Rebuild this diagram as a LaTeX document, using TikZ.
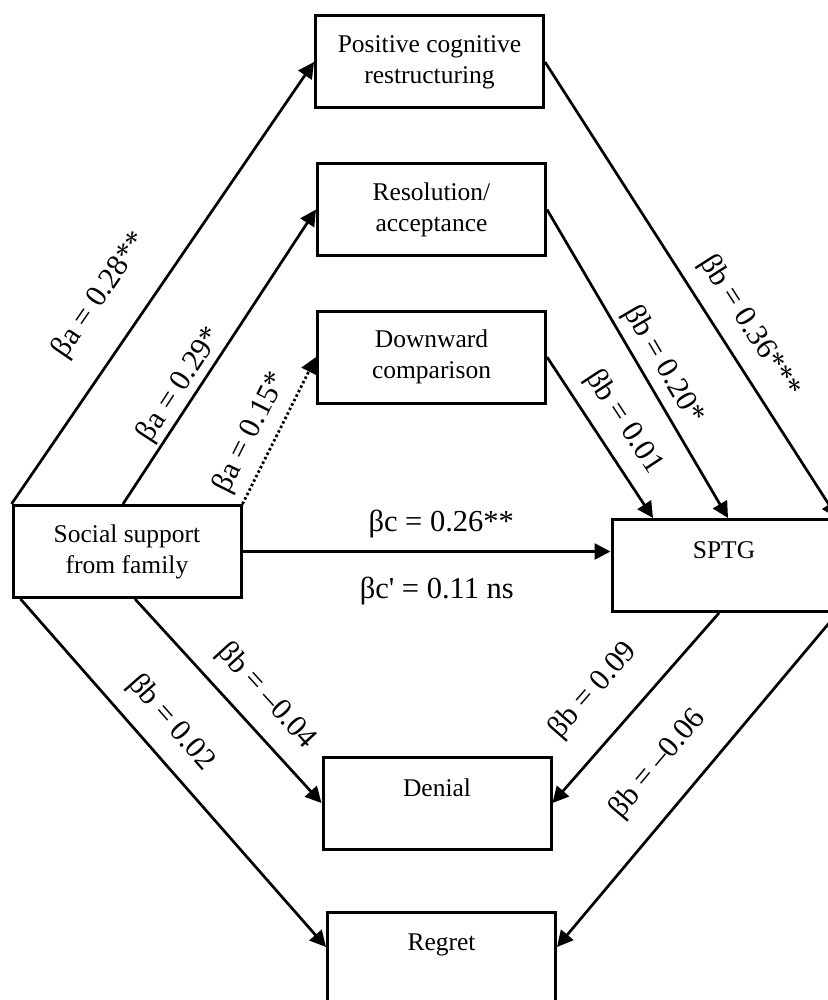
\documentclass[tikz,border=0pt]{standalone}
\usepackage{fontspec}
\setmainfont{Liberation Serif}
\usetikzlibrary{arrows.meta}

\tikzset{
  box/.style={draw, line width=3pt, minimum width=228pt, minimum height=92pt, inner sep=0pt, align=center, font=\fontsize{25.5}{31}\selectfont},
  link/.style={line width=2.7pt, -{Triangle[length=16pt,width=16pt]}},
  coef/.style={sloped, inner sep=0pt, font=\fontsize{30.5}{36}\selectfont},
}

\begin{document}
\begin{tikzpicture}[x=1pt, y=-1pt]
\useasboundingbox (0,0) rectangle (827,1000);

% boxes
\node[box] (pcr) at (429.5,62) {Positive cognitive\\restructuring};
\node[box] (res) at (431.5,209.5) {Resolution/\\acceptance};
\node[box] (down) at (431.5,357) {Downward\\comparison};
\node[box] (fam) at (127,551.5) {Social support\\from family};
\node[box, minimum width=224pt] (sptg) at (724,565.5) {SPTG\\~};
\node[box] (denial) at (437,803) {Denial\\~};
\node[box] (regret) at (441.5,958) {Regret\\~};

% a paths
\draw[link] (fam.north west) -- (pcr.west) node[coef, pos=0.415, above=29pt] {βa = 0.28**};
\draw[link] ([xshift=-4pt]fam.north) -- (res.west) node[coef, pos=0.372, above=2pt] {βa = 0.29*};
\draw[link, dash pattern=on 2.5pt off 2.5pt] (fam.north east) -- (down.west) node[coef, pos=0.41, above=9pt] {βa = 0.15*};

% c path
\draw[link] (fam.east) -- (fam.east -| sptg.west)
  node[coef, pos=0.54, above=12.5pt] {βc = 0.26**}
  node[coef, pos=0.528, below=24.5pt] {βc\textquotesingle{} = 0.11 ns};

% b paths
\draw[link] (pcr.east) -- (sptg.north east) node[coef, pos=0.615, above=14pt] {βb = 0.36***};
\draw[link] (res.east) -- ([xshift=4pt]sptg.north) node[coef, pos=0.54, above=6pt] {βb = 0.20*};
\draw[link] (down.east) -- ([xshift=-71pt]sptg.north) node[coef, pos=0.5, above=13pt] {βb = 0.01};
\draw[link] ([xshift=8pt]fam.south) -- (denial.west) node[coef, pos=0.58, above=16pt] {βb = –0.04};
\draw[link] ([xshift=9pt]fam.south west) -- ([yshift=11pt]regret.west) node[coef, pos=0.416, above=16pt] {βb = 0.02};
\draw[link] ([xshift=-5pt]sptg.south) -- (denial.east) node[coef, pos=0.56, above=28pt] {βb = 0.09};
\draw[link] (sptg.south east) -- ([yshift=11pt]regret.east) node[coef, pos=0.53, above=25pt] {βb = –0.06};
\end{tikzpicture}
\end{document}
